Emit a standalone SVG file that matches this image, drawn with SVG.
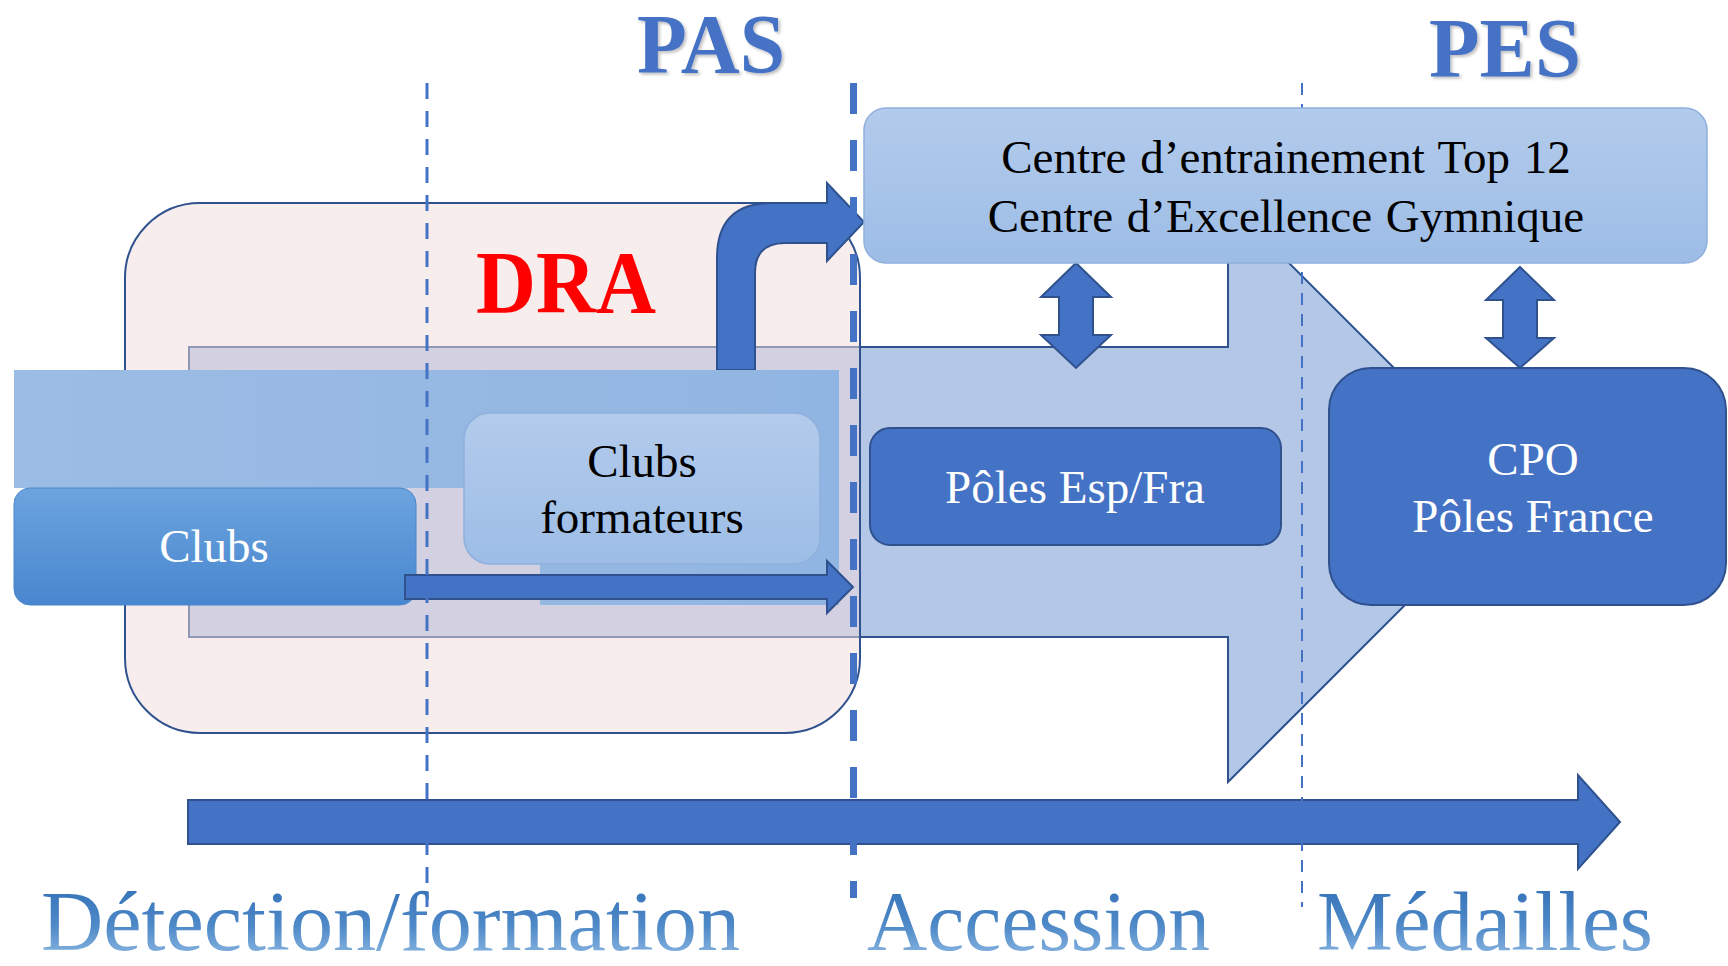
<svg xmlns="http://www.w3.org/2000/svg" width="1728" height="966" viewBox="0 0 1728 966">
<defs>
<linearGradient id="gLight" x1="0" y1="0" x2="0" y2="1"><stop offset="0" stop-color="#B3CBEC"/><stop offset="1" stop-color="#9DBDE6"/></linearGradient>
<linearGradient id="gClubs" x1="0" y1="0" x2="0" y2="1"><stop offset="0" stop-color="#6CA4DE"/><stop offset="1" stop-color="#4886CF"/></linearGradient>
<linearGradient id="gBand" x1="0" y1="0" x2="1" y2="0"><stop offset="0" stop-color="#9BBCE4"/><stop offset="1" stop-color="#91B5E2"/></linearGradient>
<linearGradient id="gLabel" x1="0" y1="0" x2="0" y2="1"><stop offset="0" stop-color="#2E6CB3"/><stop offset="0.55" stop-color="#4E89C8"/><stop offset="1" stop-color="#9DC4E9"/></linearGradient>
<filter id="shadow" x="-10%" y="-10%" width="130%" height="130%"><feDropShadow dx="2" dy="2" stdDeviation="1.5" flood-color="#000" flood-opacity="0.25"/></filter>
<style>
.dark{fill:#4472C4;stroke:#2F528F;stroke-width:2}
.light{fill:url(#gLight);stroke:#8FB0DD;stroke-width:1.5}
.serif{font-family:"Liberation Serif","Times New Roman",serif}
.title{font-size:84px;font-weight:bold;fill:#4472C4}
.node{font-size:47px;text-anchor:middle}
.white{fill:#FFFFFF}
.black{fill:#000000}
.label{font-size:85px;fill:url(#gLabel)}
.dash{fill:none;stroke:#4472C4}
</style>
</defs>
<rect width="1728" height="966" fill="#FFFFFF"/>

<g id="big-arrow">
<path d="M189,347 L1228,347 L1228,202 L1518,492 L1228,782 L1228,637 L189,637 Z" fill="#B4C7E7" stroke="#2F528F" stroke-width="2"/>
</g>

<g id="dra">
<rect x="125" y="203" width="735" height="530" rx="75" ry="75" fill="#F2DCDB" fill-opacity="0.5" stroke="#2F528F" stroke-width="2"/>
<text class="serif" x="476" y="312" font-size="88" font-weight="bold" fill="#FF0000" textLength="180" lengthAdjust="spacingAndGlyphs">DRA</text>
</g>

<g id="connectors">
<path class="dark" d="M717,370 L717,258 Q717,203 772,203 L827,203 L827,183 L864,222 L827,261 L827,243 L785,243 Q755,243 755,273 L755,370 Z"/>
</g>

<g id="band">
<path d="M14,370 L839,370 L839,605 L540,605 L540,488 L14,488 Z" fill="url(#gBand)"/>
</g>

<g id="clubs">
<rect x="14" y="488" width="402" height="117" rx="16" fill="url(#gClubs)" stroke="#4A86CC" stroke-width="1"/>
<text class="serif node white" x="214" y="562">Clubs</text>
</g>

<g id="clubs-formateurs">
<rect class="light" x="464" y="413" width="356" height="151" rx="26"/>
<text class="serif node black" x="642" y="477">Clubs</text>
<text class="serif node black" x="642" y="533">formateurs</text>
</g>

<g id="connectors-2">
<path class="dark" d="M405,575 L827,575 L827,561 L853,587 L827,613 L827,599 L405,599 Z"/>
<path class="dark" d="M1076,263 L1111,297 L1093,297 L1093,335 L1111,335 L1076,368 L1041,335 L1059,335 L1059,297 L1041,297 Z"/>
<path class="dark" d="M1520,267 L1554,300 L1537,300 L1537,338 L1554,338 L1520,368 L1486,338 L1503,338 L1503,300 L1486,300 Z"/>
<path class="dark" d="M188,800 L1578,800 L1578,775 L1620,822 L1578,869 L1578,844 L188,844 Z"/>
</g>

<g id="dividers">
<line class="dash" x1="427" y1="83" x2="427" y2="907" stroke-width="3" stroke-dasharray="16 12"/>
<line class="dash" x1="853.5" y1="83" x2="853.5" y2="898" stroke-width="7" stroke-dasharray="31 26"/>
<line class="dash" x1="1302" y1="83" x2="1302" y2="907" stroke-width="2" stroke-dasharray="12 9"/>
</g>

<g id="poles-esp">
<rect class="dark" x="870" y="428" width="411" height="117" rx="20"/>
<text class="serif node white" x="1075" y="503">Pôles Esp/Fra</text>
</g>

<g id="cpo">
<rect class="dark" x="1329" y="368" width="397" height="237" rx="42"/>
<text class="serif node white" x="1533" y="475">CPO</text>
<text class="serif node white" x="1533" y="532">Pôles France</text>
</g>

<g id="centre">
<rect class="light" x="864" y="108" width="843" height="155" rx="22"/>
<text class="serif node black" x="1286" y="173" word-spacing="2">Centre d’entrainement Top 12</text>
<text class="serif node black" x="1286" y="232" word-spacing="2">Centre d’Excellence Gymnique</text>
</g>

<g id="titles">
<text class="serif title" x="637" y="73" textLength="148" lengthAdjust="spacingAndGlyphs" filter="url(#shadow)">PAS</text>
<text class="serif title" x="1429" y="77" textLength="152" lengthAdjust="spacingAndGlyphs" filter="url(#shadow)">PES</text>
</g>

<g id="phases">
<text class="serif label" x="41" y="950" textLength="699" lengthAdjust="spacingAndGlyphs">Détection/formation</text>
<text class="serif label" x="867" y="950" textLength="343" lengthAdjust="spacingAndGlyphs">Accession</text>
<text class="serif label" x="1317" y="950" textLength="336" lengthAdjust="spacingAndGlyphs">Médailles</text>
</g>
</svg>
